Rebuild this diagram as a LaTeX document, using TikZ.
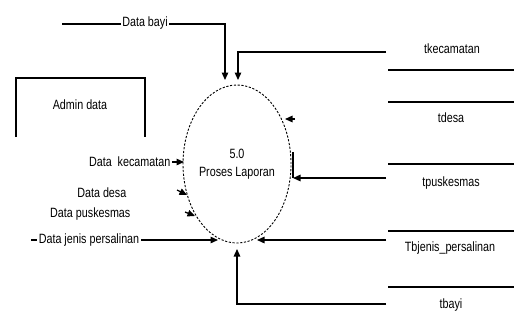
\documentclass[tikz,border=0pt]{standalone}
\usepackage{fontspec}
\setmainfont{Liberation Sans}[FakeStretch=0.8]
\usetikzlibrary{arrows.meta,shapes.geometric}

\begin{document}
\begin{tikzpicture}[x=1bp,y=-1bp,line width=1.3bp,
  flow/.style={-{Triangle[length=7.5bp,width=6.5bp]}},
  lbl/.style={font=\fontsize{13.5}{18}\selectfont,inner sep=1bp},
  onlinelbl/.style={lbl,fill=white,inner sep=1.5bp},
  storeline/.style={line width=1.4bp},
  process/.style={ellipse,draw,dash pattern=on 2.2bp off 1.6bp,line width=0.9bp,
    minimum width=108bp,minimum height=158bp,inner sep=0pt,align=center,
    font=\fontsize{13.5}{18}\selectfont}]
\useasboundingbox (0,0) rectangle (514,320);
\fill[white] (0,0) rectangle (514,320);

% process
\node[process] (p) at (237,164) {5.0\\Proses Laporan};

% external entity (open at the bottom)
\draw (16,137) -- (16,78) -- (145,78) -- (145,137);
\node[lbl] (admin) at (80,105) {Admin data};

% data stores
\foreach \y in {70,102,164,231,287} \draw[storeline] (388,\y) -- (514,\y);
\node[lbl] (skec) at (452,49) {tkecamatan};
\node[lbl] (sdesa) at (451,118) {tdesa};
\node[lbl] (spusk) at (451,183) {tpuskesmas};
\node[lbl] (sjenis) at (450,248) {Tbjenis\_persalinan};
\node[lbl] (sbayi) at (451,305) {tbayi};

% connector end points
\coordinate (bayiIn) at (62,24);
\coordinate (topL) at (225,80);
\coordinate (topR) at (238,80);
\coordinate (kecOut) at (386,52);
\coordinate (desaA) at (295,119);
\coordinate (desaB) at (285,119);
\coordinate (puskOut) at (386,178);
\coordinate (puskTip) at (293,178);
\coordinate (puskTop) at (293,152);
\coordinate (jenisOut) at (386,240);
\coordinate (jenisTip) at (257,240);
\coordinate (tbayiOut) at (386,304);
\coordinate (botTip) at (237,249);

% flows from data stores
\draw[flow] (bayiIn) -- (225,24) -- (topL);
\node[onlinelbl] (lbayi) at (145,23) {Data bayi};
\draw[flow] (kecOut) -- (238,52) -- (topR);
\draw[flow] (desaA) -- (desaB);
\draw[flow] (puskOut) -- (puskTip);
\draw (puskTip) -- (puskTop);
\draw[flow] (jenisOut) -- (jenisTip);
\draw[flow] (tbayiOut) -- (237,304) -- (botTip);

% flows from the left
\node[lbl,anchor=east] (lkec) at (172,162) {Data\ \ kecamatan};
\coordinate (kecTip) at (184,162);
\draw[flow] (lkec.east) -- (kecTip);
\node[lbl,anchor=east] (ldesa) at (128,193) {Data desa};
\coordinate (desaL1) at (177,190);
\coordinate (desaL2) at (187,195);
\draw[flow] (desaL1) -- (desaL2);
\node[lbl,anchor=east] (lpusk) at (132,214) {Data puskesmas};
\coordinate (puskL1) at (185,212);
\coordinate (puskL2) at (195,216);
\draw[flow] (puskL1) -- (puskL2);
\coordinate (jenisIn) at (31,240);
\coordinate (jenisL) at (218,240);
\draw[flow] (jenisIn) -- (jenisL);
\node[onlinelbl] (ljenis) at (89,240) {Data jenis persalinan};
\end{tikzpicture}
\end{document}
